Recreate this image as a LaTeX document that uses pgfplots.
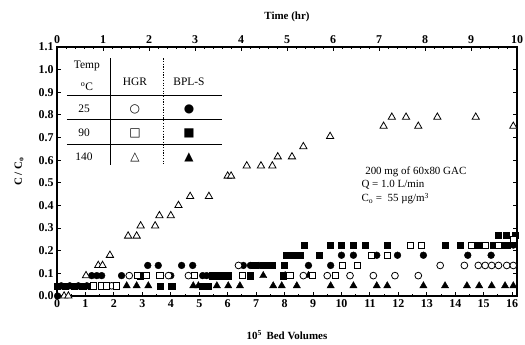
\documentclass[border=0pt]{standalone}
\usepackage{fontspec}
\setmainfont{Liberation Serif}
\newfontfamily\symfont{DejaVu Sans}
\usepackage{pgfplots}
\pgfplotsset{compat=1.18}
\begin{document}
\begin{tikzpicture}
\useasboundingbox (-57bp,-49bp) rectangle (468bp,296bp);
\begin{axis}[
  at={(0,0)}, anchor=south west,
  width=460bp, height=249bp, scale only axis,
  xmin=0, xmax=16.17, ymin=0, ymax=1.1,
  clip=false,
  axis line style={line width=1.1pt},
  xtick={0,...,16}, minor x tick num=1,
  ytick={0,0.1,...,1.1},
  xtick pos=left, ytick pos=both, yticklabel pos=left,
  tick align=inside,
  major tick length=4bp, minor tick length=2bp,
  every tick/.style={line width=0.9pt,black},
  /pgf/number format/assume math mode=true,
  yticklabel style={/pgf/number format/.cd,fixed,fixed zerofill,precision=1},
  ticklabel style={font=\fontsize{12}{12}\selectfont\bfseries},
  xlabel={10\textsuperscript{5}\, Bed Volumes},
  ylabel={C / C\textsubscript{o}},
  every axis x label/.style={at={(axis description cs:0.5,0)}, yshift=-39bp, anchor=center, font=\fontsize{11}{12}\selectfont\bfseries},
  every axis y label/.style={at={(axis description cs:0,0.5)}, xshift=-38bp, anchor=center, rotate=90, font=\fontsize{11}{12}\selectfont\bfseries},
]
% BPL-S 25 C (filled circles)
\addplot[only marks, mark=*, mark size=3.4bp, mark options={fill=black,draw=black}] coordinates {
(0.02,0.0) (0.15,0.045) (0.45,0.045) (0.75,0.045) (1.05,0.045) (1.22,0.09) (1.4,0.09) (1.57,0.09) (2.27,0.09) (4.0,0.09) (5.12,0.09) (5.26,0.09) (5.7,0.09) (3.19,0.135) (3.56,0.135) (4.38,0.135) (4.77,0.135) (6.55,0.135) (6.8,0.135) (7.1,0.135) (8.84,0.135) (9.62,0.135) (10.0,0.18) (10.42,0.18) (11.24,0.18) (11.97,0.18) (12.88,0.18) (14.44,0.18) (15.26,0.18) (16.04,0.225)
};
% BPL-S 90 C (filled squares)
\addplot[only marks, mark=square*, mark size=3.1bp, mark options={fill=black,draw=black}] coordinates {
(0.0,0.045) (0.3,0.045) (0.6,0.045) (0.9,0.045) (1.2,0.045) (3.62,0.045) (4.03,0.045) (5.1,0.045) (5.3,0.045) (2.92,0.09) (5.45,0.09) (5.6,0.09) (5.85,0.09) (6.0,0.09) (6.79,0.09) (7.95,0.09) (6.95,0.135) (7.25,0.135) (7.4,0.135) (7.56,0.135) (7.98,0.135) (8.07,0.18) (8.3,0.18) (8.54,0.18) (9.22,0.18) (8.68,0.225) (9.6,0.225) (10.0,0.225) (10.42,0.225) (10.83,0.225) (11.61,0.225) (12.41,0.225) (13.64,0.225) (14.17,0.225) (14.81,0.225) (15.34,0.225) (15.61,0.225) (15.81,0.225) (15.5,0.27) (15.8,0.27) (16.1,0.27)
};
% BPL-S 140 C (filled triangles)
\addplot[only marks, mark=triangle*, mark size=4.2bp, mark options={fill=black,draw=black}] coordinates {
(2.45,0.045) (2.8,0.045) (3.21,0.045) (4.79,0.045) (4.97,0.045) (5.62,0.045) (6.02,0.045) (6.43,0.045) (7.6,0.045) (7.9,0.045) (8.43,0.045) (9.62,0.045) (10.42,0.045) (11.24,0.045) (11.61,0.045) (12.88,0.045) (13.64,0.045) (14.41,0.045) (14.84,0.045) (15.28,0.045) (15.75,0.045) (16.04,0.045) (7.25,0.09) (8.02,0.09) (8.84,0.09)
};
% HGR 25 C (open circles)
\addplot[only marks, mark=*, mark size=3.4bp, mark options={fill=white,draw=black,line width=0.8pt}] coordinates {
(1.92,0.045) (2.54,0.09) (3.92,0.09) (4.62,0.09) (8.66,0.09) (9.5,0.09) (10.3,0.09) (11.12,0.09) (11.88,0.09) (12.7,0.09) (6.38,0.135) (13.47,0.135) (14.32,0.135) (14.81,0.135) (15.05,0.135) (15.28,0.135) (15.52,0.135) (15.81,0.135) (16.04,0.135)
};
% HGR 90 C (open squares)
\addplot[only marks, mark=square*, mark size=3.1bp, mark options={fill=white,draw=black,line width=0.8pt}] coordinates {
(1.28,0.045) (1.57,0.045) (1.75,0.045) (2.1,0.045) (2.82,0.09) (3.15,0.09) (3.62,0.09) (4.83,0.09) (6.53,0.09) (8.19,0.09) (8.98,0.09) (9.78,0.09) (10.04,0.135) (10.57,0.135) (11.06,0.18) (11.61,0.18) (12.41,0.225) (12.82,0.225) (14.58,0.225) (15.05,0.225) (15.52,0.225) (16.04,0.25)
};
% HGR 140 C (open triangles)
\addplot[only marks, mark=triangle*, mark size=4.2bp, mark options={fill=white,draw=black,line width=0.8pt}] coordinates {
(0.25,0.0) (0.4,0.0) (1.02,0.09) (1.45,0.135) (1.6,0.135) (1.86,0.18) (2.5,0.265) (2.8,0.265) (2.94,0.31) (3.45,0.31) (3.6,0.355) (4.0,0.355) (4.27,0.40) (4.68,0.44) (5.34,0.44) (6.0,0.53) (6.12,0.53) (6.67,0.575) (7.17,0.575) (7.57,0.575) (7.76,0.615) (8.26,0.615) (8.66,0.66) (9.6,0.705) (11.48,0.75) (11.77,0.79) (12.27,0.79) (12.7,0.75) (13.37,0.79) (14.72,0.79) (16.04,0.75)
};
% legend table
\draw[line width=0.6pt] (axis cs:1.86,1.05) -- (axis cs:1.86,0.58);
\draw[line width=0.6pt, dash pattern=on 1.2pt off 1.5pt] (axis cs:3.73,1.05) -- (axis cs:3.73,0.58);
\draw[line width=0.6pt] (axis cs:0.35,0.888) -- (axis cs:5.8,0.888);
\draw[line width=0.6pt] (axis cs:0.35,0.782) -- (axis cs:5.8,0.782);
\draw[line width=0.6pt] (axis cs:0.35,0.671) -- (axis cs:5.8,0.671);
\begin{scope}[every node/.style={font=\fontsize{11.5}{12}\selectfont, inner sep=0pt}]
\node at (axis cs:1.05,1.016) {Temp};
\node at (axis cs:1.05,0.925) {\textsuperscript{o}C};
\node at (axis cs:2.74,0.945) {HGR};
\node at (axis cs:4.64,0.945) {BPL-S};
\node at (axis cs:0.95,0.826) {25};
\node at (axis cs:0.95,0.72) {90};
\node at (axis cs:0.95,0.614) {140};
\node at (axis cs:2.74,0.826) {\symfont\fontsize{12}{12}\selectfont ○};
\node at (axis cs:4.64,0.826) {\symfont\fontsize{12}{12}\selectfont ●};
\node at (axis cs:2.74,0.72) {\symfont\fontsize{12}{12}\selectfont □};
\node at (axis cs:4.64,0.72) {\symfont\fontsize{12}{12}\selectfont ■};
\node at (axis cs:2.74,0.614) {\symfont\fontsize{12}{12}\selectfont △};
\node at (axis cs:4.64,0.614) {\symfont\fontsize{12}{12}\selectfont ▲};
\end{scope}
% annotation
\begin{scope}[every node/.style={font=\fontsize{11}{12}\selectfont, anchor=west, inner sep=0pt}]
\node at (axis cs:10.83,0.55) {200 mg of 60x80 GAC};
\node at (axis cs:10.7,0.49) {Q = 1.0 L/min};
\node at (axis cs:10.7,0.43) {C\textsubscript{o} =\ \ 55 µg/m\textsuperscript{3}};
\end{scope}
\end{axis}
\begin{axis}[
  at={(0,0)}, anchor=south west,
  width=460bp, height=249bp, scale only axis,
  xmin=0, xmax=10, ymin=0, ymax=1.1,
  axis x line*=top, axis y line=none,
  axis line style={line width=1.1pt, -},
  xtick={0,...,10}, minor x tick num=4,
  tick align=inside,
  major tick length=4bp, minor tick length=2bp,
  every tick/.style={line width=0.9pt,black},
  /pgf/number format/assume math mode=true,
  ticklabel style={font=\fontsize{12}{12}\selectfont\bfseries},
  xlabel={Time (hr)},
  every axis x label/.style={at={(axis description cs:0.5,1)}, yshift=30bp, anchor=center, font=\fontsize{11}{12}\selectfont\bfseries},
]
\end{axis}
\end{tikzpicture}
\end{document}
